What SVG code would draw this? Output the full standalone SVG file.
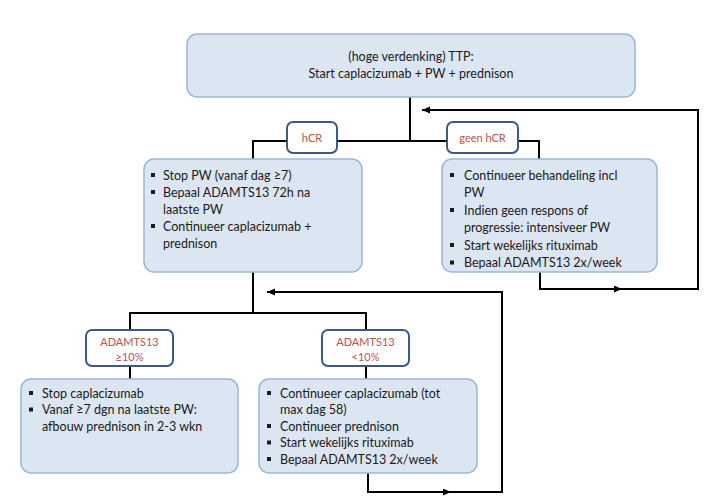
<svg xmlns="http://www.w3.org/2000/svg" width="708" height="502" viewBox="0 0 708 502">
<defs>
<style>
.box{fill:#dce6f2;stroke:#9ab7da;stroke-width:1.5}
.lbl{fill:#ffffff;stroke:#3b5a86;stroke-width:2}
.t{font-family:Lato,"Liberation Sans",sans-serif;font-size:12.5px;fill:#1a1a1a}
.c{text-anchor:middle}
.r{font-family:Lato,"Liberation Sans",sans-serif;font-size:11px;fill:#c0504d;text-anchor:middle}
.b{fill:#1a1a1a}
.ln{fill:none;stroke:#000;stroke-width:2}
</style>
<marker id="ah" markerUnits="userSpaceOnUse" markerWidth="9" markerHeight="8" refX="8" refY="3.5" orient="auto">
<path d="M0,0 L8,3.5 L0,7 z" fill="#000"/>
</marker>
</defs>
<rect width="708" height="502" fill="#ffffff"/>
<g id="connectors">
<path class="ln" d="M410 97 V141"/>
<path class="ln" d="M253 159 V141 H539 V159"/>
<path class="ln" d="M253 272 V313"/>
<path class="ln" d="M130 330 V313 H366 V330"/>
<path class="ln" d="M130 366 V379"/>
<path class="ln" d="M366 366 V379"/>
<path class="ln" d="M540 272 V289 H622" marker-end="url(#ah)"/>
<path class="ln" d="M618 289 H698 V110 H422" marker-end="url(#ah)"/>
<path class="ln" d="M368 473 V492 H451" marker-end="url(#ah)"/>
<path class="ln" d="M447 492 H502 V292 H267" marker-end="url(#ah)"/>
</g>
<g id="start">
<rect class="box" x="187" y="34" width="448" height="63" rx="10"/>
<text class="t c" x="411" y="61">(hoge verdenking) TTP:</text>
<text class="t c" x="411" y="78">Start caplacizumab + PW + prednison</text>
</g>
<g id="label-hcr">
<rect class="lbl" x="287" y="122" width="50" height="31" rx="6"/>
<text class="r" x="312" y="142">hCR</text>
</g>
<g id="label-geen-hcr">
<rect class="lbl" x="447" y="122" width="71" height="31" rx="6"/>
<text class="r" x="482.5" y="142">geen hCR</text>
</g>
<g id="hcr-box">
<rect class="box" x="144" y="159" width="218" height="113" rx="10"/>
<rect class="b" x="151" y="173" width="4" height="4"/>
<rect class="b" x="151" y="190" width="4" height="4"/>
<rect class="b" x="151" y="224" width="4" height="4"/>
<text class="t" x="163" y="179.5">Stop PW (vanaf dag ≥7)</text>
<text class="t" x="163" y="196.5">Bepaal ADAMTS13 72h na</text>
<text class="t" x="163" y="213.5">laatste PW</text>
<text class="t" x="163" y="230.5">Continueer caplacizumab +</text>
<text class="t" x="163" y="247.5">prednison</text>
</g>
<g id="geen-hcr-box">
<rect class="box" x="442" y="159" width="215" height="113" rx="10"/>
<rect class="b" x="450" y="173" width="4" height="4"/>
<rect class="b" x="450" y="208" width="4" height="4"/>
<rect class="b" x="450" y="243" width="4" height="4"/>
<rect class="b" x="450" y="260.5" width="4" height="4"/>
<text class="t" x="464" y="179.5">Continueer behandeling incl</text>
<text class="t" x="464" y="197">PW</text>
<text class="t" x="464" y="214.5">Indien geen respons of</text>
<text class="t" x="464" y="232">progressie: intensiveer PW</text>
<text class="t" x="464" y="249.5">Start wekelijks rituximab</text>
<text class="t" x="464" y="267">Bepaal ADAMTS13 2x/week</text>
</g>
<g id="label-ge10">
<rect class="lbl" x="86" y="330" width="87" height="36" rx="6"/>
<text class="r" x="129.5" y="346">ADAMTS13</text>
<text class="r" x="129.5" y="361">≥10%</text>
</g>
<g id="label-lt10">
<rect class="lbl" x="322" y="330" width="87" height="36" rx="6"/>
<text class="r" x="365.5" y="346">ADAMTS13</text>
<text class="r" x="365.5" y="361">&lt;10%</text>
</g>
<g id="ge10-box">
<rect class="box" x="21" y="379" width="217" height="94" rx="10"/>
<rect class="b" x="29" y="391" width="4" height="4"/>
<rect class="b" x="29" y="407.5" width="4" height="4"/>
<text class="t" x="42" y="397.5">Stop caplacizumab</text>
<text class="t" x="42" y="414">Vanaf ≥7 dgn na laatste PW:</text>
<text class="t" x="42" y="430.5">afbouw prednison in 2-3 wkn</text>
</g>
<g id="lt10-box">
<rect class="box" x="259" y="379" width="218" height="94" rx="10"/>
<rect class="b" x="267" y="391" width="4" height="4"/>
<rect class="b" x="267" y="424" width="4" height="4"/>
<rect class="b" x="267" y="440.5" width="4" height="4"/>
<rect class="b" x="267" y="457" width="4" height="4"/>
<text class="t" x="280" y="397.5">Continueer caplacizumab (tot</text>
<text class="t" x="280" y="414">max dag 58)</text>
<text class="t" x="280" y="430.5">Continueer prednison</text>
<text class="t" x="280" y="447">Start wekelijks rituximab</text>
<text class="t" x="280" y="463.5">Bepaal ADAMTS13 2x/week</text>
</g>
</svg>
